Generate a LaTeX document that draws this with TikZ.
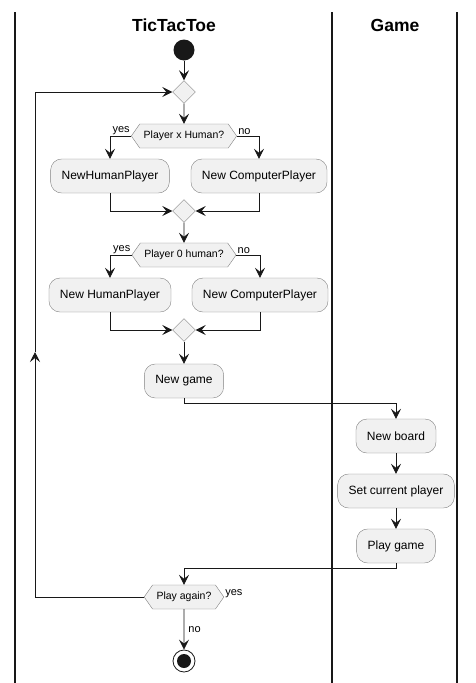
\documentclass[tikz,border=0pt]{standalone}
\usepackage{fontspec}
\setmainfont{Liberation Sans}
\usetikzlibrary{arrows.meta,shapes.geometric,shapes.symbols}
\definecolor{actfill}{RGB}{241,241,241}
\definecolor{actline}{RGB}{24,24,24}

\begin{document}
\begin{tikzpicture}[x=1pt,y=-1pt,
act/.style={draw=black!50, fill=actfill, rounded corners=11pt, minimum height=34pt, inner xsep=11pt, font=\fontsize{12}{14}\selectfont},
ask/.style={signal, signal to=east and west, signal pointer angle=110, draw=black!50, fill=actfill, minimum height=24pt, inner xsep=4pt, inner ysep=0pt, font=\fontsize{10.5}{12}\selectfont},
merge/.style={diamond, draw=black!50, fill=actfill, minimum width=23pt, minimum height=23pt, inner sep=0pt},
flow/.style={draw=actline, line width=0.8pt, -{Stealth[length=10pt,width=10pt,inset=4pt]}},
lbl/.style={font=\fontsize{11}{12}\selectfont, inner sep=1pt},
lane/.style={draw=actline, line width=1.2pt},
title/.style={font=\bfseries\fontsize{17.5}{19}\selectfont}]
\useasboundingbox (0,0) rectangle (475,683);
\draw[lane] (15,12) -- (15,683);
\draw[lane] (332,12) -- (332,683);
\draw[lane] (457,12) -- (457,683);
\node[title] (laneA) at (174,25) {TicTacToe};
\node[title] (laneB) at (395,25) {Game};

\node[circle, fill=actline, minimum size=21pt, inner sep=0pt] (start) at (184,50) {};
\node[merge] (m1) at (184,92) {};
\node[ask] (d1) at (184,136) {Player x Human?};
\node[act] (h1) at (110,176) {NewHumanPlayer};
\node[act] (c1) at (259,176) {New ComputerPlayer};
\node[merge] (m2) at (184,211) {};
\node[ask] (d2) at (184,255) {Player 0 human?};
\node[act] (h2) at (110,295) {New HumanPlayer};
\node[act] (c2) at (260,295) {New ComputerPlayer};
\node[merge] (m3) at (184,330) {};
\node[act] (game) at (184,381) {New game};
\node[act] (board) at (396,436) {New board};
\node[act] (setp) at (396,491) {Set current player};
\node[act] (play) at (396,546) {Play game};
\node[ask] (again) at (184,597) {Play again?};
\node[circle, draw=actline, line width=0.8pt, minimum size=22pt, inner sep=0pt,
  path picture={\fill[actline] (path picture bounding box.center) circle (7pt);}] (stop) at (184,661) {};

\draw[flow] (start) -- (m1);
\draw[flow] (m1) -- (d1);
\draw[flow] (d1.west) -| node[lbl, pos=0, anchor=south east] {yes} (h1.north);
\draw[flow] (d1.east) -| node[lbl, pos=0, anchor=south west] {no} (c1.north);
\draw[flow] (h1.south) |- (m2.west);
\draw[flow] (c1.south) |- (m2.east);
\draw[flow] (m2) -- (d2);
\draw[flow] (d2.west) -| node[lbl, pos=0, anchor=south east] {yes} (h2.north);
\draw[flow] (d2.east) -| node[lbl, pos=0, anchor=south west] {no} (c2.north);
\draw[flow] (h2.south) |- (m3.west);
\draw[flow] (c2.south) |- (m3.east);
\draw[flow] (m3) -- (game);
\draw[flow] (game.south) -- ++(0,5) -| (board.north);
\draw[flow] (board) -- (setp);
\draw[flow] (setp) -- (play);
\draw[flow] (play.south) -- ++(0,5) -| (again.north);
\draw[flow] (again) -- node[lbl, right=3pt] {no} (stop);

\coordinate (loopA) at (35,597);
\coordinate (loopB) at (35,352);
\coordinate (loopC) at (35,92);
\draw[flow] (again.west) -- (loopA) -- (loopB);
\draw[flow] (loopB) -- (loopC) -- (m1.west);
\node[lbl, anchor=south west] (yesagain) at ([yshift=-2pt]again.east) {yes};
\end{tikzpicture}
\end{document}
